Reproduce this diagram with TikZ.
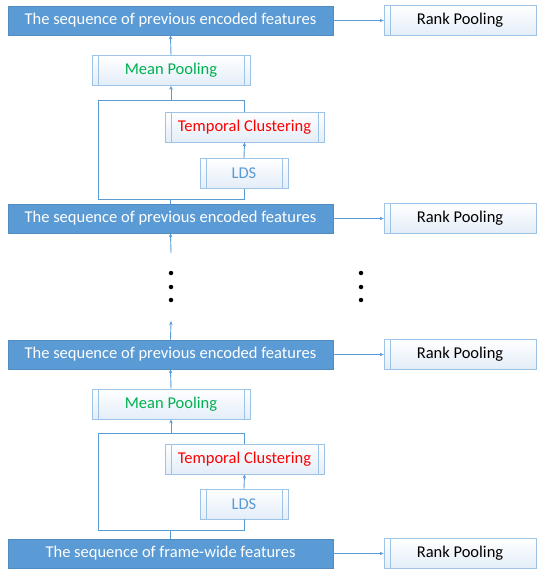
\documentclass[tikz,border=0pt]{standalone}
\usepackage{fontspec}
\setmainfont{Carlito}
\usetikzlibrary{arrows.meta}
\definecolor{obl}{HTML}{5B9BD5}
\definecolor{obord}{HTML}{9DC3E6}
\definecolor{ofill}{HTML}{E3EDF8}
\definecolor{ogreen}{HTML}{00B050}
\definecolor{ored}{HTML}{FF0000}
\tikzset{
  seqbox/.style={fill=obl, draw=obl!90!black, line width=0.6pt, text=white, minimum width=325pt, minimum height=29pt, inner sep=0pt, font=\fontsize{16.5}{18}\selectfont},
  procbox/.style={draw=obord, line width=0.8pt, top color=white, bottom color=ofill, minimum height=30pt, inner sep=0pt, font=\fontsize{16.5}{18}\selectfont,
    path picture={
      \draw[obord, line width=0.8pt]
      ([xshift=6pt]path picture bounding box.north west) -- ([xshift=6pt]path picture bounding box.south west)
      ([xshift=-6pt]path picture bounding box.north east) -- ([xshift=-6pt]path picture bounding box.south east);
    }},
  rankbox/.style={draw=obord, line width=0.8pt, top color=white, bottom color=ofill, minimum width=152pt, minimum height=30pt, inner sep=0pt, font=\fontsize{16.5}{18}\selectfont,
    path picture={
      \draw[obord, line width=0.8pt]
      ([xshift=6pt]path picture bounding box.north west) -- ([xshift=6pt]path picture bounding box.south west);
    }},
  conn/.style={draw=obl, line width=0.9pt},
  arr/.style={conn, -{Stealth[length=4pt,width=3.5pt]}},
  dot/.style={circle, fill=black, inner sep=0pt, minimum size=4.5pt}
}
\begin{document}
\begin{tikzpicture}[x=1pt,y=-1pt]
\useasboundingbox (0,0) rectangle (537,572);
% sequence boxes
\node[seqbox] (s1) at (170.5,20.5) {The sequence of previous encoded features};
\node[seqbox] (s2) at (170.5,218.5) {The sequence of previous encoded features};
\node[seqbox] (s3) at (170.5,354.5) {The sequence of previous encoded features};
\node[seqbox] (s4) at (170.5,553.5) {The sequence of frame-wide features};
% rank pooling
\node[rankbox] (r1) at (460,20.5) {Rank Pooling};
\node[rankbox] (r2) at (460,218.5) {Rank Pooling};
\node[rankbox] (r3) at (460,354.5) {Rank Pooling};
\node[rankbox] (r4) at (460,553.5) {Rank Pooling};
\foreach \i in {1,2,3,4} \draw[arr] (s\i.east) -- (r\i.west);
% upper block
\node[procbox, minimum width=158pt, text=ogreen] (m1) at (171,70.5) {Mean Pooling};
\node[procbox, minimum width=159pt, text=ored] (t1) at (244.5,127) {Temporal Clustering};
\node[procbox, minimum width=88pt, text=obl] (l1) at (244,173.5) {LDS};
\coordinate (a1) at (98.5,100);
\coordinate (b1) at (98.5,199);
\draw[arr] (m1.north) -- (s1.south);
\draw[arr] (l1.north) -- (t1.south);
\draw[conn] (t1.north) |- (a1) -- (b1) -| (l1.south);
\draw[conn] (s2.north) -- (s2.north |- b1);
\draw[arr] (m1.south |- a1) -- (m1.south);
% lower block
\node[procbox, minimum width=158pt, text=ogreen] (m2) at (171,404) {Mean Pooling};
\node[procbox, minimum width=159pt, text=ored] (t2) at (244.5,459) {Temporal Clustering};
\node[procbox, minimum width=88pt, text=obl] (l2) at (244,504) {LDS};
\coordinate (a2) at (98.5,433);
\coordinate (b2) at (98.5,530);
\draw[arr] (m2.north) -- (s3.south);
\draw[arr] (l2.north) -- (t2.south);
\draw[conn] (t2.north) |- (a2) -- (b2) -| (l2.south);
\draw[conn] (s4.north) -- (s4.north |- b2);
\draw[arr] (m2.south |- a2) -- (m2.south);
% stubs
\coordinate (u1) at (171,253);
\coordinate (u2) at (171,321);
\draw[arr] (u1) -- (s2.south);
\draw[arr] (s3.north) -- (u2);
% dots
\foreach \y [count=\k] in {273,287,300} {
  \node[dot] (dl\k) at (171,\y) {};
  \node[dot] (dr\k) at (361,\y) {};
}
\end{tikzpicture}
\end{document}
